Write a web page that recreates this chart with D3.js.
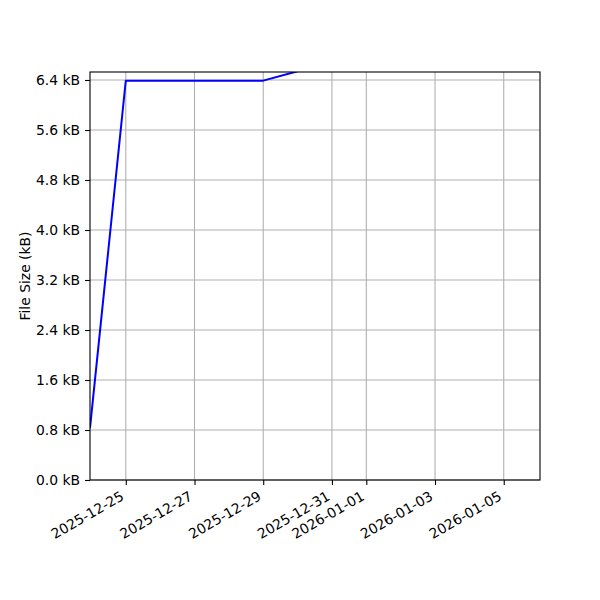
<!DOCTYPE html>
<html>
<head>
<meta charset="utf-8">
<script src="https://cdn.jsdelivr.net/npm/d3@7"></script>
<style>
  body { margin: 0; background: #fff; }
  text { font-family: "DejaVu Sans", sans-serif; }
</style>
</head>
<body>
<div id="chart"></div>
<script>
// data (sizes in kB)
var dates = ["2025-12-23T23:00", "2025-12-25T00:00", "2025-12-29T00:00", "2025-12-30T00:00"];
var sizes = [0.83, 6.39, 6.39, 6.54];
var tickDates = ["2025-12-25", "2025-12-27", "2025-12-29", "2025-12-31", "2026-01-01", "2026-01-03", "2026-01-05"];
var yTicks = [0, 0.8, 1.6, 2.4, 3.2, 4.0, 4.8, 5.6, 6.4];

var parseT = d3.utcParse("%Y-%m-%dT%H:%M");
var parseD = d3.utcParse("%Y-%m-%d");
var fmtD = d3.utcFormat("%Y-%m-%d");

var width = 600, height = 600;
var margin = {left: 90, right: 60, top: 72, bottom: 120};
var w = width - margin.left - margin.right;
var h = height - margin.top - margin.bottom;
var fs = 13.9;

var svg = d3.select("#chart").append("svg")
    .attr("width", width).attr("height", height);

var g = svg.append("g").attr("transform", "translate(" + margin.left + "," + margin.top + ")");

// x goes from a bit before 12-24 to just past 01-06
var x = d3.scaleUtc()
    .domain([parseT("2025-12-23T23:00"), parseT("2026-01-06T01:20")])
    .range([0, w]);
var y = d3.scaleLinear()
    .domain([0, 6.528])
    .range([h, 0]);

// grid
g.append("g").selectAll("line")
    .data(tickDates).enter().append("line")
    .attr("x1", function(d){ return x(parseD(d)); })
    .attr("x2", function(d){ return x(parseD(d)); })
    .attr("y1", 0).attr("y2", h)
    .attr("stroke", "#b0b0b0").attr("stroke-width", 1.1);
g.append("g").selectAll("line")
    .data(yTicks).enter().append("line")
    .attr("x1", 0).attr("x2", w)
    .attr("y1", function(d){ return y(d); })
    .attr("y2", function(d){ return y(d); })
    .attr("stroke", "#b0b0b0").attr("stroke-width", 1.1);

// clip so the line stops at the frame
svg.append("defs").append("clipPath").attr("id", "clip")
    .append("rect").attr("width", w).attr("height", h);

var line = d3.line()
    .x(function(d){ return x(parseT(d[0])); })
    .y(function(d){ return y(d[1]); });

g.append("path")
    .datum(d3.zip(dates, sizes))
    .attr("clip-path", "url(#clip)")
    .attr("fill", "none")
    .attr("stroke", "#0000ff")
    .attr("stroke-width", 2)
    .attr("stroke-linejoin", "round")
    .attr("d", line);

// axes
var xAxis = d3.axisBottom(x)
    .tickValues(tickDates.map(parseD))
    .tickFormat(fmtD)
    .tickSize(5).tickPadding(4);
var yAxis = d3.axisLeft(y)
    .tickValues(yTicks)
    .tickFormat(function(d){ return d3.format(".1f")(d) + " kB"; })
    .tickSize(5).tickPadding(5);

var xg = g.append("g").attr("transform", "translate(0," + h + ")").call(xAxis);
xg.attr("font-size", null).attr("font-family", null);
xg.select(".domain").remove();
xg.selectAll("text")
    .style("font-size", fs + "px").attr("fill", "#000")
    .attr("text-anchor", "end")
    .attr("x", 0).attr("y", 0).attr("dy", 0)
    .attr("transform", "translate(-1.5,19) rotate(-30)");

var yg = g.append("g").call(yAxis);
yg.attr("font-size", null).attr("font-family", null);
yg.select(".domain").remove();
yg.selectAll("text").style("font-size", fs + "px").attr("fill", "#000");
g.selectAll(".tick line").attr("stroke", "#000").attr("stroke-width", 1.1);

// frame
g.append("rect")
    .attr("width", w).attr("height", h)
    .attr("fill", "none").attr("stroke", "#000").attr("stroke-width", 1.1);

svg.append("text")
    .attr("transform", "translate(30," + (margin.top + h / 2) + ") rotate(-90)")
    .attr("text-anchor", "middle")
    .style("font-size", fs + "px")
    .text("File Size (kB)");
</script>
</body>
</html>
